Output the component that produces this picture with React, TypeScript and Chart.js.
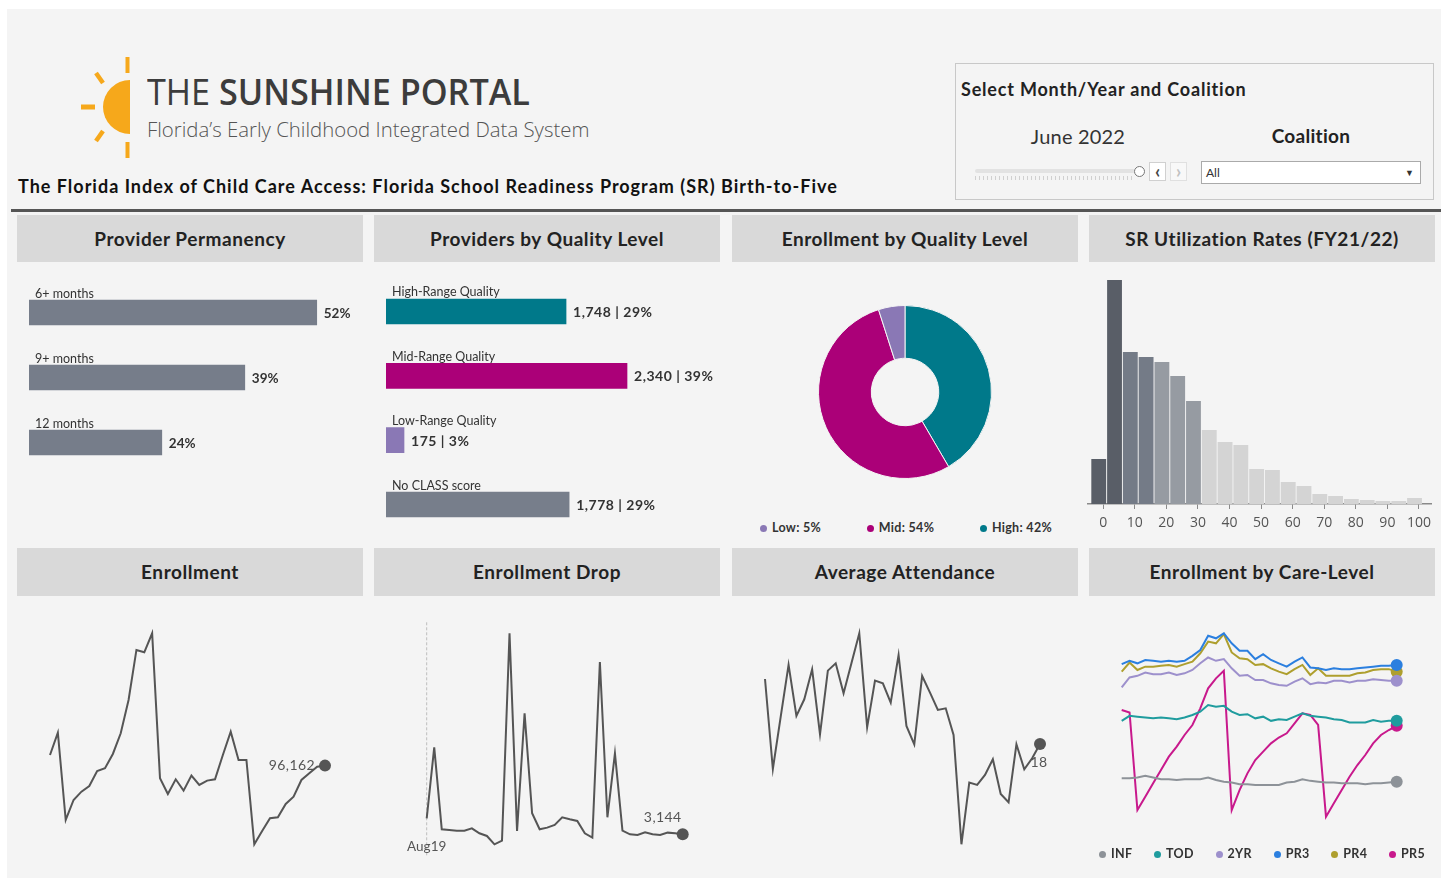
import React, { useEffect, useRef } from "react";
import { Chart, registerables } from "chart.js";
Chart.register(...registerables);

const FONT = "Lato, 'Open Sans', Arial, sans-serif";
Chart.defaults.font.family = FONT;

// ---------- DATA ----------
const permanencyLabels = ["6+ months", "9+ months", "12 months"];
const permanencyValues = [52, 39, 24];

const qualityLabels = ["High-Range Quality", "Mid-Range Quality", "Low-Range Quality", "No CLASS score"];
const qualityCounts = [1748, 2340, 175, 1778];
const qualityPercents = [29, 39, 3, 29];
const qualityColors = ["#00798a", "#ab0078", "#8a78b5", "#777e8b"];

const enrollQualityLabels = ["High", "Mid", "Low"];
const enrollQualityValues = [42, 54, 5];
const enrollQualityColors = ["#00798a", "#ab0078", "#8a78b5"];

const utilBinCenters = [-1.4, 3.6, 8.6, 13.6, 18.6, 23.6, 28.6, 33.6, 38.6, 43.6, 48.6, 53.6, 58.6, 63.6, 68.6, 73.6, 78.6, 83.6, 88.6, 93.6, 98.6];
const utilCounts = [225, 1120, 760, 735, 710, 640, 515, 370, 310, 295, 175, 170, 110, 90, 50, 40, 25, 20, 15, 15, 30];
const utilColors = [
  "#595e67", "#595e67",
  "#747b87", "#747b87",
  "#969ba2", "#969ba2", "#969ba2",
  "#d4d4d4", "#d4d4d4", "#d4d4d4", "#d4d4d4", "#d4d4d4", "#d4d4d4", "#d4d4d4",
  "#d4d4d4", "#d4d4d4", "#d4d4d4", "#d4d4d4", "#d4d4d4", "#d4d4d4", "#d4d4d4",
];
const utilTicks = [0, 10, 20, 30, 40, 50, 60, 70, 80, 90, 100];

const monthLabels = [
  "Jul19", "Aug19", "Sep19", "Oct19", "Nov19", "Dec19",
  "Jan20", "Feb20", "Mar20", "Apr20", "May20", "Jun20", "Jul20", "Aug20", "Sep20", "Oct20", "Nov20", "Dec20",
  "Jan21", "Feb21", "Mar21", "Apr21", "May21", "Jun21", "Jul21", "Aug21", "Sep21", "Oct21", "Nov21", "Dec21",
  "Jan22", "Feb22", "Mar22", "Apr22", "May22", "Jun22",
];
const enrollmentValues = [
  98080, 102100, 86380, 89980, 91480, 92500, 95200, 95680, 98260, 101980, 107980, 116980,
  116560, 119980, 93880, 91060, 93700, 91660, 94360, 92680, 93460, 93700, 98080, 102280,
  97180, 97180, 82000, 84400, 86680, 86860, 89260, 90580, 93580, 94780, 95980, 96162,
];
const dropMonths = monthLabels.slice(1);
const dropValues = [
  4344, 9669, 3519, 3469, 3419, 3419, 3594, 3219, 3019, 2394, 2669, 18219,
  3394, 12219, 4719, 3519, 3644, 3844, 4419, 4269, 4144, 3219, 2894, 16069,
  4419, 9219, 3419, 3144, 3094, 3294, 3144, 3094, 3269, 3219, 3144,
];
const attendanceValues = [
  19.95, 17.25, 18.82, 20.37, 18.84, 19.34, 20.24, 18.29, 20.2, 20.42, 19.52, 20.42,
  21.32, 18.5, 19.9, 19.82, 19.24, 20.67, 18.54, 17.99, 20.04, 19.54, 19.02, 19.07,
  18.27, 14.99, 16.84, 16.77, 17.07, 17.54, 16.5, 16.25, 17.99, 17.24, 17.57, 18.0,
];

const careLevels = ["INF", "TOD", "2YR", "PR3", "PR4", "PR5"];
const careColors = ["#8d9298", "#1f9c9e", "#9d90cc", "#2b7fdf", "#ae9f2e", "#c8198c"];
const infValues = [8.6, 8.6, 8.7, 8.9, 8.7, 8.5, 8.5, 8.4, 8.5, 8.5, 8.5, 8.7, 8.4, 8.2, 8.1, 7.9, 7.9, 7.8, 7.8, 7.8, 7.8, 8.1, 8.2, 8.5, 8.3, 8.2, 8.1, 8.1, 8.0, 8.0, 8.0, 7.9, 8.0, 8.0, 8.1, 8.2];
const todValues = [15.5, 16.1, 16.0, 15.9, 15.8, 15.9, 15.8, 15.7, 15.9, 16.2, 16.6, 17.4, 17.2, 17.3, 16.6, 16.2, 16.3, 15.8, 16.0, 15.5, 15.7, 15.6, 16.0, 16.4, 16.1, 16.0, 15.9, 15.7, 15.6, 15.3, 15.3, 15.3, 15.6, 15.4, 15.5, 15.5];
const twoYrValues = [19.5, 20.7, 20.9, 21.3, 21.1, 21.1, 21.3, 21.0, 21.2, 21.6, 22.4, 23.1, 22.7, 22.9, 21.8, 20.9, 21.0, 20.4, 20.4, 20.0, 19.8, 19.7, 20.2, 20.6, 19.9, 20.1, 20.0, 20.3, 20.3, 20.1, 20.3, 20.3, 20.5, 20.4, 20.3, 20.3];
const pr3Values = [22.3, 22.7, 22.4, 22.8, 22.7, 22.6, 22.7, 22.6, 22.7, 23.3, 24.0, 25.7, 25.4, 26.0, 24.8, 23.9, 23.9, 22.9, 23.5, 22.8, 22.4, 22.0, 22.6, 23.1, 21.9, 21.8, 21.6, 21.8, 21.7, 21.7, 21.8, 21.9, 22.0, 22.1, 22.1, 22.2];
const pr4Values = [21.4, 22.5, 21.6, 22.0, 22.0, 22.1, 22.2, 22.0, 22.3, 22.6, 23.6, 25.0, 24.8, 25.9, 23.7, 23.0, 22.9, 22.2, 22.3, 21.8, 21.4, 21.1, 21.7, 22.2, 21.0, 21.8, 20.9, 20.9, 20.9, 20.9, 21.2, 21.3, 21.6, 21.7, 21.7, 21.4];
const pr5Values = [16.8, 16.5, 4.8, 6.4, 8.0, 9.6, 11.2, 12.4, 13.8, 15.0, 17.0, 19.4, 20.6, 21.5, 4.8, 7.2, 9.2, 10.8, 11.8, 12.8, 13.5, 14.0, 15.2, 16.4, 16.2, 15.0, 4.0, 5.6, 7.2, 8.8, 10.2, 11.4, 12.8, 13.8, 14.4, 14.9];
const careSeries = [infValues, todValues, twoYrValues, pr3Values, pr4Values, pr5Values];

// ---------- CHART HELPERS ----------
const fmt = (n: number) => n.toLocaleString("en-US");

function barLabelPlugin(valueText: (i: number) => string, valueFont: string, spacing: string) {
  return {
    id: "barLabels",
    afterDatasetsDraw(chart: any) {
      const ctx = chart.ctx;
      const meta = chart.getDatasetMeta(0);
      meta.data.forEach((bar: any, i: number) => {
        const top = bar.y - bar.height / 2;
        ctx.save();
        ctx.fillStyle = "#333";
        ctx.font = `12.5px ${FONT}`;
        ctx.textAlign = "left";
        ctx.textBaseline = "alphabetic";
        ctx.fillText(String(chart.data.labels[i]), bar.base + 6, top - 2.5);
        ctx.font = valueFont;
        (ctx as any).letterSpacing = spacing;
        ctx.textBaseline = "middle";
        ctx.fillText(valueText(i), bar.x + 7, bar.y + 1);
        ctx.restore();
      });
    },
  };
}

function hbarConfig(
  labels: string[],
  values: number[],
  colors: any,
  max: number,
  padding: any,
  valueText: (i: number) => string,
  valueFont: string,
  spacing: string
) {
  return {
    type: "bar",
    data: { labels, datasets: [{ data: values, backgroundColor: colors, borderWidth: 0, barThickness: 25 }] },
    options: {
      indexAxis: "y",
      responsive: false,
      animation: false,
      events: [],
      layout: { padding },
      plugins: { legend: { display: false }, tooltip: { enabled: false } },
      scales: { x: { display: false, min: 0, max }, y: { display: false } },
    },
    plugins: [barLabelPlugin(valueText, valueFont, spacing)],
  };
}

function endLabelPlugin(text: (v: number) => string, dx: number, dy: number, align: string) {
  return {
    id: "endLabel",
    afterDatasetsDraw(chart: any) {
      const meta = chart.getDatasetMeta(0);
      const pt = meta.data[meta.data.length - 1];
      const ds = chart.data.datasets[0].data;
      const ctx = chart.ctx;
      ctx.save();
      ctx.font = `14px ${FONT}`;
      (ctx as any).letterSpacing = "0.4px";
      ctx.fillStyle = "#555";
      ctx.textAlign = align;
      ctx.textBaseline = "middle";
      ctx.fillText(text(ds[ds.length - 1]), pt.x + dx, pt.y + dy);
      ctx.restore();
    },
  };
}

const firstMarkPlugin = {
  id: "firstMark",
  beforeDatasetsDraw(chart: any) {
    const meta = chart.getDatasetMeta(0);
    const p0 = meta.data[0];
    const { top, bottom } = chart.chartArea;
    const ctx = chart.ctx;
    ctx.save();
    ctx.strokeStyle = "#bdbdbd";
    ctx.lineWidth = 1;
    ctx.setLineDash([3, 2]);
    ctx.beginPath();
    ctx.moveTo(p0.x, top - 11);
    ctx.lineTo(p0.x, bottom + 11);
    ctx.stroke();
    ctx.setLineDash([]);
    ctx.font = `13.5px ${FONT}`;
    ctx.fillStyle = "#555";
    ctx.textAlign = "center";
    ctx.textBaseline = "middle";
    ctx.fillText(String(chart.data.labels[0]), p0.x, bottom + 2.5);
    ctx.restore();
  },
};

function lineDataset(values: number[], color: string, width = 2) {
  const n = values.length;
  return {
    data: values,
    borderColor: color,
    backgroundColor: color,
    borderWidth: width,
    pointRadius: (c: any) => (c.dataIndex === n - 1 ? 6 : 0),
    pointBorderWidth: 0,
    pointBackgroundColor: color,
    tension: 0,
    clip: false,
  };
}

function lineConfig(labels: string[], datasets: any[], padding: any, yMin: number, yMax: number, plugins: any[]) {
  return {
    type: "line",
    data: { labels, datasets },
    options: {
      responsive: false,
      animation: false,
      events: [],
      layout: { padding },
      plugins: { legend: { display: false }, tooltip: { enabled: false } },
      scales: { x: { display: false }, y: { display: false, min: yMin, max: yMax } },
    },
    plugins,
  };
}

function ChartBox({ left, top, width, height, make }: { left: number; top: number; width: number; height: number; make: () => any }) {
  const ref = useRef<HTMLCanvasElement>(null);
  useEffect(() => {
    const chart = new Chart(ref.current as HTMLCanvasElement, make());
    return () => chart.destroy();
  }, []);
  return <canvas ref={ref} width={width} height={height} style={{ position: "absolute", left, top, width, height }} />;
}

// ---------- CONFIGS ----------
const permanencyConfig = () =>
  hbarConfig(
    permanencyLabels,
    permanencyValues,
    "#767d8a",
    60,
    { left: 12, right: 1, top: 18, bottom: 65 },
    (i) => `${permanencyValues[i]}%`,
    `bold 13.5px ${FONT}`,
    "0px"
  );

const qualityConfig = () =>
  hbarConfig(
    qualityLabels,
    qualityCounts,
    qualityColors,
    3200,
    { left: 12, right: 3.4, top: 17.3, bottom: 3.3 },
    (i) => `${fmt(qualityCounts[i])} | ${qualityPercents[i]}%`,
    `bold 14px ${FONT}`,
    "0.5px"
  );

const doughnutConfig = () => ({
  type: "doughnut",
  data: {
    labels: enrollQualityLabels,
    datasets: [{ data: enrollQualityValues, backgroundColor: enrollQualityColors, borderColor: "#f4f4f4", borderWidth: 1, hoverOffset: 0 }],
  },
  options: {
    responsive: false,
    animation: false,
    events: [],
    cutout: "39%",
    plugins: { legend: { display: false }, tooltip: { enabled: false } },
  },
});

const utilConfig = () => ({
  type: "bar",
  data: {
    datasets: [
      {
        data: utilBinCenters.map((x, i) => ({ x, y: utilCounts[i] })),
        backgroundColor: utilColors,
        borderWidth: 0,
        barPercentage: 0.94,
        categoryPercentage: 1,
      },
    ],
  },
  options: {
    responsive: false,
    animation: false,
    events: [],
    layout: { padding: { left: 4, right: 1, top: 0, bottom: 0 } },
    plugins: { legend: { display: false }, tooltip: { enabled: false } },
    scales: {
      x: {
        type: "linear",
        min: -4.8,
        max: 104,
        offset: false,
        grid: { display: true, offset: false, drawOnChartArea: false, drawTicks: true, tickLength: 5, color: "#8a8a8a" },
        border: { display: true, color: "#8a8a8a", width: 1.5 },
        ticks: { font: { family: "'Open Sans', sans-serif", size: 14 }, color: "#555", padding: 6, maxRotation: 0, autoSkip: false },
        afterBuildTicks: (axis: any) => {
          axis.ticks = utilTicks.map((v) => ({ value: v }));
        },
        afterFit: (axis: any) => {
          axis.height = 36;
        },
      },
      y: { display: false, min: 0, max: 1210 },
    },
  },
});

const sparkPad = { left: 33, right: 37, top: 37.3, bottom: 30.7 };

const enrollmentConfig = () =>
  lineConfig(monthLabels, [lineDataset(enrollmentValues, "#555")], sparkPad, Math.min(...enrollmentValues), Math.max(...enrollmentValues), [
    endLabelPlugin((v) => fmt(v), -10, 0, "right"),
  ]);

const dropConfig = () =>
  lineConfig(dropMonths, [lineDataset(dropValues, "#555")], { left: 52.7, right: 36.3, top: 37.3, bottom: 30.7 }, Math.min(...dropValues), Math.max(...dropValues), [
    firstMarkPlugin,
    endLabelPlugin((v) => fmt(v), -20, -17, "center"),
  ]);

const attendanceConfig = () =>
  lineConfig(monthLabels, [lineDataset(attendanceValues, "#555")], sparkPad, Math.min(...attendanceValues), Math.max(...attendanceValues), [
    endLabelPlugin((v) => String(Math.round(v)), -1, 19, "center"),
  ]);

const careConfig = () =>
  lineConfig(
    monthLabels,
    careSeries.map((s, i) => ({ ...lineDataset(s, careColors[i]), label: careLevels[i] })),
    { left: 32.7, right: 38.3, top: 37.3, bottom: 58.3 },
    4,
    26,
    []
  );

// ---------- LAYOUT ----------
const columns = [17, 374, 732, 1089];
const colWidth = 345;
const row1Titles = ["Provider Permanency", "Providers by Quality Level", "Enrollment by Quality Level", "SR Utilization Rates (FY21/22)"];
const row2Titles = ["Enrollment", "Enrollment Drop", "Average Attendance", "Enrollment by Care-Level"];

function Header({ left, top, height, text }: { left: number; top: number; height: number; text: string }) {
  return (
    <div
      style={{
        position: "absolute",
        left,
        top,
        width: colWidth + 1,
        height,
        background: "#d9d9d9",
        color: "#222",
        fontWeight: 700,
        fontSize: 19,
        letterSpacing: 0.55,
        lineHeight: `${height}px`,
        textAlign: "center",
      }}
    >
      {text}
    </div>
  );
}

function Legend({ left, top, width, labels, colors }: { left: number; top: number; width: number; labels: string[]; colors: string[] }) {
  return (
    <div style={{ position: "absolute", left, top, width, height: 16, display: "flex", justifyContent: "space-between", alignItems: "center" }}>
      {labels.map((l, i) => (
        <div key={l} style={{ display: "flex", alignItems: "center", fontSize: 12.5, fontWeight: 700, color: "#333", lineHeight: "16px", letterSpacing: 0.3 }}>
          <span style={{ width: 7, height: 7, borderRadius: 4, background: colors[i], marginRight: 5, display: "inline-block" }} />
          {l}
        </div>
      ))}
    </div>
  );
}

function Logo() {
  const c = "#f6a81b";
  return (
    <svg style={{ position: "absolute", left: 0, top: 0 }} width={200} height={200}>
      <path d="M130,80 A27,27 0 0 0 130,134 Z" fill={c} />
      <rect x={125.5} y={57} width={4} height={16} fill={c} />
      <rect x={125.5} y={142} width={4} height={16} fill={c} />
      <rect x={81} y={104.5} width={14} height={5} fill={c} />
      <line x1={96} y1={73} x2={103} y2={83} stroke={c} strokeWidth={4.5} />
      <line x1={96} y1={141} x2={103} y2={131} stroke={c} strokeWidth={4.5} />
    </svg>
  );
}

export default function App() {
  return (
    <div style={{ position: "absolute", left: 0, top: 0, width: 1447, height: 880, background: "#fff", fontFamily: FONT, overflow: "hidden" }}>
      <div style={{ position: "absolute", left: 7, top: 9, width: 1434, height: 869, background: "#f4f4f4" }} />
      <Logo />
      <div
        style={{
          position: "absolute",
          left: 147,
          top: 74,
          whiteSpace: "nowrap",
          fontFamily: "'Open Sans', sans-serif",
          fontSize: 36,
          lineHeight: "36px",
          color: "#3c3c3c",
          transform: "scaleX(0.95)",
          transformOrigin: "left top",
        }}
      >
        <span style={{ fontWeight: 400 }}>THE </span>
        <span style={{ fontWeight: 600 }}>SUNSHINE PORTAL</span>
      </div>
      <div
        style={{
          position: "absolute",
          left: 147,
          top: 119,
          whiteSpace: "nowrap",
          fontFamily: "'Open Sans', sans-serif",
          fontWeight: 300,
          fontSize: 21,
          lineHeight: "21px",
          color: "#555",
          transform: "scaleX(0.97)",
          transformOrigin: "left top",
        }}
      >
        Florida’s Early Childhood Integrated Data System
      </div>
      <div style={{ position: "absolute", left: 18, top: 176, whiteSpace: "nowrap", fontSize: 18, lineHeight: "20px", fontWeight: 700, color: "#111", letterSpacing: 1 }}>
        The Florida Index of Child Care Access: Florida School Readiness Program (SR) Birth-to-Five
      </div>
      <div style={{ position: "absolute", left: 11, top: 209, width: 1430, height: 3, background: "#555" }} />

      {/* filter box */}
      <div style={{ position: "absolute", left: 955, top: 63, width: 477, height: 135, border: "1.5px solid #c8c8c8" }} />
      <div style={{ position: "absolute", left: 961, top: 78, fontSize: 18, lineHeight: "22px", fontWeight: 700, color: "#222", whiteSpace: "nowrap", letterSpacing: 0.8 }}>
        Select Month/Year and Coalition
      </div>
      <div style={{ position: "absolute", left: 1000, top: 125, width: 156, textAlign: "center", fontSize: 20, lineHeight: "22px", color: "#333", letterSpacing: 0.2 }}>June 2022</div>
      <div style={{ position: "absolute", left: 1233, top: 125, width: 156, textAlign: "center", fontSize: 19, lineHeight: "22px", fontWeight: 700, color: "#222", letterSpacing: 0.3 }}>Coalition</div>
      <div style={{ position: "absolute", left: 975, top: 169, width: 160, height: 4, background: "#e2e2e2", borderRadius: 2 }} />
      <div
        style={{
          position: "absolute",
          left: 975,
          top: 176,
          width: 160,
          height: 4,
          backgroundImage: "repeating-linear-gradient(90deg, #d0d0d0 0 1px, transparent 1px 4px)",
        }}
      />
      <div style={{ position: "absolute", left: 1133.5, top: 165.5, width: 9, height: 9, borderRadius: 6, border: "1.3px solid #777", background: "#fff" }} />
      <div
        style={{
          position: "absolute",
          left: 1149,
          top: 162,
          width: 15,
          height: 17,
          border: "1px solid #d0d0d0",
          background: "#fff",
          fontSize: 18,
          lineHeight: "16px",
          textAlign: "center",
          color: "#444",
          fontWeight: 700,
        }}
      >
        ‹
      </div>
      <div
        style={{
          position: "absolute",
          left: 1170,
          top: 162,
          width: 15,
          height: 17,
          border: "1px solid #e0e0e0",
          background: "#f8f8f8",
          fontSize: 18,
          lineHeight: "16px",
          textAlign: "center",
          color: "#c0c0c0",
          fontWeight: 700,
        }}
      >
        ›
      </div>
      <div style={{ position: "absolute", left: 1201, top: 161, width: 218, height: 21, background: "#fff", border: "1px solid #aaa" }}>
        <span style={{ position: "absolute", left: 4, top: 3, fontSize: 12, lineHeight: "15px", color: "#333" }}>All</span>
        <span style={{ position: "absolute", right: 6, top: 3, fontSize: 9, lineHeight: "15px", color: "#333" }}>▼</span>
      </div>

      {row1Titles.map((t, i) => (
        <Header key={t} left={columns[i]} top={215} height={47} text={t} />
      ))}
      {row2Titles.map((t, i) => (
        <Header key={t} left={columns[i]} top={548} height={48} text={t} />
      ))}

      <ChartBox left={17} top={262} width={345} height={278} make={permanencyConfig} />
      <ChartBox left={374} top={262} width={345} height={278} make={qualityConfig} />
      <ChartBox left={818} top={305} width={174} height={174} make={doughnutConfig} />
      <Legend
        left={760}
        top={520}
        width={292}
        labels={[2, 1, 0].map((i) => `${enrollQualityLabels[i]}: ${enrollQualityValues[i]}%`)}
        colors={[2, 1, 0].map((i) => enrollQualityColors[i])}
      />
      <ChartBox left={1084} top={262} width={353} height={278} make={utilConfig} />

      <ChartBox left={17} top={596} width={345} height={279} make={enrollmentConfig} />
      <ChartBox left={374} top={596} width={345} height={279} make={dropConfig} />
      <ChartBox left={732} top={596} width={345} height={279} make={attendanceConfig} />
      <ChartBox left={1089} top={596} width={346} height={279} make={careConfig} />
      <Legend left={1099} top={846} width={326} labels={careLevels} colors={careColors} />
    </div>
  );
}
